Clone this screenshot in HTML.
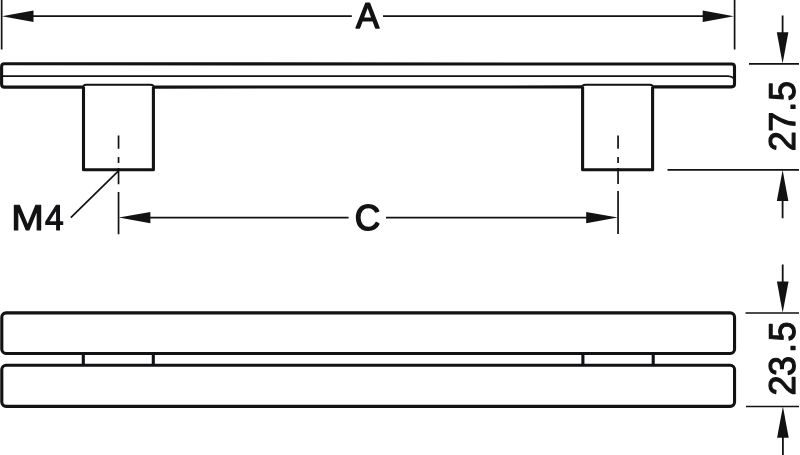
<!DOCTYPE html>
<html>
<head>
<meta charset="utf-8">
<title>Handle dimension drawing</title>
<style>
html,body{margin:0;padding:0;background:#fff;}
body{width:800px;height:455px;overflow:hidden;}
svg{display:block;}
.k{fill:none;stroke:#121214;stroke-width:3.1;stroke-linejoin:round;stroke-linecap:butt;}
.t{fill:none;stroke:#121214;stroke-width:1.7;}
.a{fill:#121214;stroke:none;}
text{font-family:"Liberation Sans",sans-serif;font-size:36px;fill:#121214;stroke:#121214;stroke-width:1.2;stroke-linejoin:round;text-rendering:geometricPrecision;}
</style>
</head>
<body>
<svg width="800" height="455" viewBox="0 0 800 455" style="will-change:transform">
<rect x="0" y="0" width="800" height="455" fill="#ffffff"/>

<!-- ===== top view (side elevation) ===== -->
<!-- bar -->
<path class="k" d="M83.5,87.12 L4.5,87.15 Q1.6,87.15 1.6,84.3 V66.7 Q1.6,63.8 4.5,63.8 L731.6,64.05 Q734.5,64.05 734.5,66.9 V84 Q734.5,86.85 731.6,86.85 L652.6,86.88"/>
<path class="k" d="M153.4,87.1 L582.6,86.9"/>
<path class="t" style="stroke-width:1.8" d="M2,76.2 H728 Q732,76.3 733.5,78.2"/>
<!-- legs -->
<path class="k" d="M83.5,87.12 V169.75 H153.4 V87.1"/>
<path class="k" d="M582.6,86.9 V169.75 H652.6 V86.88"/>
<path class="t" style="stroke-width:1.9" d="M83.1,88 Q83.1,84.75 86.3,84.75 H150.6 Q153.8,84.75 153.8,88"/>
<path class="t" style="stroke-width:1.9" d="M582.2,88 Q582.2,84.75 585.4,84.75 H649.8 Q653,84.75 653,88"/>

<!-- centre lines -->
<path class="t" d="M118.55,135.6 V148.8 M118.55,157 V162.9 M118.55,168 V184.2 M118.55,192 V234.2"/>
<path class="t" d="M618.05,135.6 V148.8 M618.05,157 V162.9 M618.05,168 V184 M618.05,191 V233.9"/>

<!-- dimension A -->
<path class="t" d="M1.65,0 V49.6 M734.6,0 V49.6"/>
<path class="t" d="M20,16.2 H351.8 M383,16.2 H715"/>
<path class="a" d="M1.9,16.2 L33.5,10.45 L33.5,21.95 Z"/>
<path class="a" d="M733.9,16.2 L702.7,10.45 L702.7,21.95 Z"/>
<text style="stroke-width:1.5" transform="translate(356.1,28.2) scale(0.965,1.0)">A</text>

<!-- dimension C -->
<path class="t" d="M140,217.7 H348.6 M386,217.7 H600"/>
<path class="a" d="M118.8,217.6 L150.4,211.9 L150.4,223.3 Z"/>
<path class="a" d="M617.7,217.6 L586.2,211.9 L586.2,223.3 Z"/>
<text style="stroke-width:1.5" transform="translate(354.8,230.35) scale(0.98,1.0)">C</text>

<!-- M4 -->
<path class="t" d="M118.5,170.9 L70.8,217.7"/>
<text x="11.3" y="230.4"><tspan textLength="32.54" lengthAdjust="spacingAndGlyphs">M</tspan><tspan x="44.9" textLength="18.7" lengthAdjust="spacingAndGlyphs">4</tspan></text>

<!-- dimension 27.5 -->
<path class="t" d="M749,63.9 H799 M667.5,169.8 H799"/>
<path class="t" style="stroke-width:1.8" d="M782.6,15.5 V40 M782.6,195 V218.3"/>
<path class="a" d="M782.6,63.6 L776.8,32.3 L788.4,32.3 Z"/>
<path class="a" d="M782.6,170.1 L776.8,201.1 L788.4,201.1 Z"/>
<text transform="translate(795.3,150.4) rotate(-90) scale(1,1.035)" x="-0.9 18.6 38.7 49.3" y="0">27.5</text>

<!-- ===== bottom view (plan) ===== -->
<rect class="k" x="1.8" y="312.9" width="732.75" height="40.55" rx="4.3" ry="4.3"/>
<rect class="k" x="1.8" y="365.25" width="732.75" height="41.15" rx="4.3" ry="4.3"/>
<path class="k" d="M83.3,353.4 V365.3 M153.3,353.4 V365.3 M582.9,353.4 V365.3 M653.2,353.4 V365.3"/>

<!-- dimension 23.5 -->
<path class="t" d="M745.5,313 H799 M746,406.5 H799"/>
<path class="t" style="stroke-width:1.8" d="M782.7,264.6 V290 M782.9,430 V455"/>
<path class="a" d="M782.7,312.7 L776.9,281.5 L788.5,281.5 Z"/>
<path class="a" d="M782.9,406.6 L777.1,437.7 L788.7,437.7 Z"/>
<text transform="translate(795.3,394.3) rotate(-90) scale(1,1.035)" x="-1.2 18.3 41.2 52.8" y="0">23.5</text>
</svg>
</body>
</html>
